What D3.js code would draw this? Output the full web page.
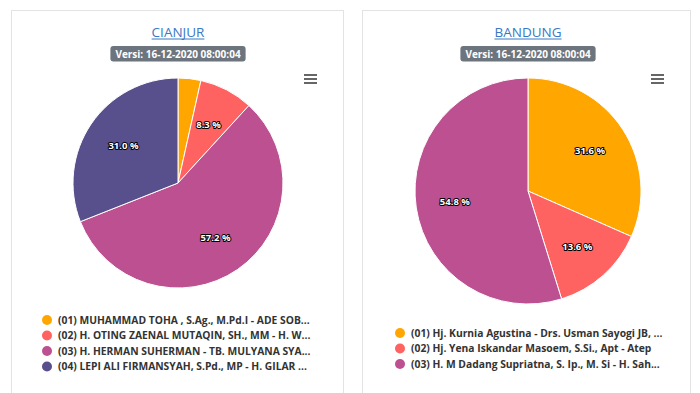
<!DOCTYPE html>
<html><head><meta charset="utf-8">
<script src="https://cdn.jsdelivr.net/npm/d3@7"></script>
<style>
html,body{margin:0;padding:0;background:#fff;width:700px;height:393px;overflow:hidden;}
svg{display:block;font-family:"Open Sans",sans-serif;}
</style></head><body>
<svg id="c" width="700" height="393"></svg>
<script>
const titles = ["CIANJUR", "BANDUNG"];
const versi = "Versi: 16-12-2020 08:00:04";
const cianjurNames = [
  "(01) MUHAMMAD TOHA , S.Ag., M.Pd.I - ADE SOB...",
  "(02) H. OTING ZAENAL MUTAQIN, SH., MM - H. W...",
  "(03) H. HERMAN SUHERMAN - TB. MULYANA SYA...",
  "(04) LEPI ALI FIRMANSYAH, S.Pd., MP - H. GILAR ..."
];
const cianjurValues = [3.5, 8.3, 57.2, 31.0];
const bandungNames = [
  "(01) Hj. Kurnia Agustina - Drs. Usman Sayogi JB, ...",
  "(02) Hj. Yena Iskandar Masoem, S.Si., Apt - Atep",
  "(03) H. M Dadang Supriatna, S. Ip., M. Si - H. Sah..."
];
const bandungValues = [31.6, 13.6, 54.8];
const colors = ["#ffa600", "#ff6361", "#bc5090", "#58508d"];

const svg = d3.select("#c");

const cards = [
  {x:11, w:332, cx:178, cy:183, r:105, names:cianjurNames, values:cianjurValues, legY:320, legX:47, title:titles[0]},
  {x:362, w:328, cx:528, cy:191, r:113, names:bandungNames, values:bandungValues, legY:333, legX:400, title:titles[1]}
];

cards.forEach(c => {
  const g = svg.append("g");
  g.append("rect").attr("x", c.x+0.5).attr("y", 10.5).attr("width", c.w).attr("height", 400)
    .attr("fill", "#fff").attr("stroke", "#e3e3e3");
  const mid = c.cx;
  const t = g.append("text").attr("x", mid).attr("y", 36.5).attr("text-anchor", "middle")
    .attr("font-size", 13.5).attr("fill", "#3a78c3").text(c.title);
  const tw = t.node().getComputedTextLength();
  g.append("line").attr("x1", mid - tw/2).attr("x2", mid + tw/2).attr("y1", 39).attr("y2", 39)
    .attr("stroke", "#3a78c3").attr("stroke-width", 1);
  const bt = g.append("text").attr("x", mid).attr("y", 57.5).attr("text-anchor", "middle")
    .attr("font-size", 10).attr("font-weight", "bold").attr("fill", "#fff").text(versi);
  const bw = bt.node().getComputedTextLength() + 10;
  g.insert("rect", "text:last-of-type").attr("x", mid - bw/2).attr("y", 46).attr("width", bw).attr("height", 15.5)
    .attr("rx", 3).attr("fill", "#6c757d");
  // menu icon
  const mx = c.x + c.w - 39;
  [0,4,8].forEach(o => g.append("rect").attr("x", mx).attr("y", 74 + o).attr("width", 13).attr("height", 2).attr("fill", "#666"));

  const pie = d3.pie().sort(null).value(d => d);
  const arcs = pie(c.values);
  const arc = d3.arc().innerRadius(0).outerRadius(c.r);
  const pg = g.append("g").attr("transform", `translate(${c.cx},${c.cy})`);
  pg.selectAll("path").data(arcs).join("path").attr("d", arc)
    .attr("fill", (d,i) => colors[i]).attr("stroke", "#fff").attr("stroke-width", 1);
  const lr = c.r - 39;
  const la = d3.arc().innerRadius(lr).outerRadius(lr);
  arcs.filter(d => d.data >= 5).forEach(d => {
    const [x, y] = la.centroid(d);
    pg.append("text").attr("x", x).attr("y", y).attr("dy", "0.35em").attr("text-anchor", "middle")
      .attr("font-size", 9.5).attr("font-weight", "bold").attr("fill", "#fff")
      .attr("stroke", "#000").attr("stroke-width", 2).attr("paint-order", "stroke").attr("stroke-linejoin", "round")
      .text(d.data.toFixed(1) + " %");
  });

  c.names.forEach((n, i) => {
    const y = c.legY + i * 15.5;
    g.append("circle").attr("cx", c.legX).attr("cy", y).attr("r", 5).attr("fill", colors[i]);
    g.append("text").attr("x", c.legX + 11).attr("y", y).attr("dy", "0.35em")
      .attr("font-size", 10.3).attr("font-weight", "bold").attr("fill", "#333").text(n);
  });
});
</script></body></html>
